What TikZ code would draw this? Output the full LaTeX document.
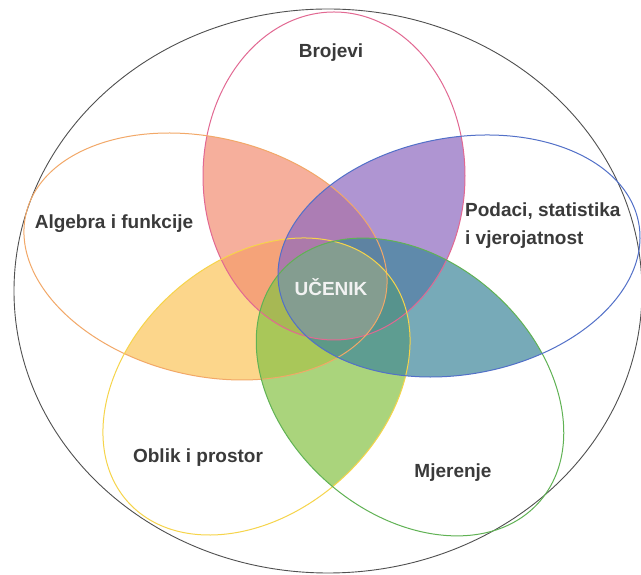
\documentclass[tikz,border=0pt]{standalone}
\usepackage{fontspec}
\setmainfont{Liberation Sans}
\definecolor{cPink}{RGB}{226,104,146}
\definecolor{cOrange}{RGB}{242,168,104}
\definecolor{cBlue}{RGB}{82,112,200}
\definecolor{cYellow}{RGB}{246,212,74}
\definecolor{cGreen}{RGB}{96,178,84}
\definecolor{fSalmon}{RGB}{243,142,114}
\definecolor{fPurple}{RGB}{142,105,191}
\definecolor{fTeal}{RGB}{62,134,155}
\definecolor{fGreen}{RGB}{134,194,69}
\definecolor{fYellow}{RGB}{251,198,91}
\definecolor{fCore}{RGB}{178,170,150}
\definecolor{labelgray}{RGB}{58,58,58}
\definecolor{outergray}{RGB}{80,80,80}
\newcommand\PathPink{(334,399) ellipse [x radius=131, y radius=164]}
\newcommand\PathOrange{(205.5,318.5) ellipse [x radius=184.5, y radius=119]}
\newcommand\PathBlue{(459,319) ellipse [x radius=182.7, y radius=118.4]}
\newcommand\PathYellow{(256.5,188.5) ellipse [x radius=172.8, y radius=125.6]}
\newcommand\PathGreen{(410,188) ellipse [x radius=173, y radius=126]}
\begin{document}
\begin{tikzpicture}[x=1pt,y=1pt,
  rotO/.style={rotate around={-13.5:(205.5,318.5)}},
  rotB/.style={rotate around={10.3:(459,319)}},
  rotY/.style={rotate around={41.9:(256.5,188.5)}},
  rotG/.style={rotate around={-42:(410,188)}},
  lens/.style={fill opacity=0.7},
  ring/.style={line width=1pt},
  lbl/.style={font=\fontsize{19}{28}\selectfont\bfseries, text=labelgray, inner sep=0pt}]
\useasboundingbox (0,0) rectangle (641,575);
\fill[white] (0,0) rectangle (641,575);
% outer ellipse
\draw[outergray, line width=0.9pt] (328,284) ellipse [x radius=314, y radius=282];
% pairwise overlaps
\begin{scope}
  \clip[rotO] \PathOrange;
  \clip[rotY] \PathYellow;
  \fill[fYellow, lens] (0,0) rectangle (641,575);
\end{scope}
\begin{scope}
  \clip \PathPink;
  \clip[rotO] \PathOrange;
  \fill[fSalmon, lens] (0,0) rectangle (641,575);
\end{scope}
\begin{scope}
  \clip \PathPink;
  \clip[rotB] \PathBlue;
  \fill[fPurple, lens] (0,0) rectangle (641,575);
\end{scope}
\begin{scope}
  \clip[rotY] \PathYellow;
  \clip[rotG] \PathGreen;
  \fill[fGreen, lens] (0,0) rectangle (641,575);
\end{scope}
\begin{scope}
  \clip[rotB] \PathBlue;
  \clip[rotG] \PathGreen;
  \fill[fTeal, lens] (0,0) rectangle (641,575);
\end{scope}
% common core of all five
\begin{scope}
  \clip \PathPink;
  \clip[rotO] \PathOrange;
  \clip[rotB] \PathBlue;
  \clip[rotY] \PathYellow;
  \clip[rotG] \PathGreen;
  \fill[fCore, fill opacity=0.5] (0,0) rectangle (641,575);
\end{scope}
% outlines
\draw[cPink, ring] \PathPink;
\draw[cOrange, ring, rotO] \PathOrange;
\draw[cYellow, ring, rotY] \PathYellow;
\draw[cGreen, ring, rotG] \PathGreen;
\draw[cBlue, ring, rotB] \PathBlue;
% labels
\node[lbl] (brojevi) at (331,522) {Brojevi};
\node[lbl] (algebra) at (114,351) {Algebra i funkcije};
\node[lbl, anchor=west, align=left] (podaci) at (465,349) {Podaci, statistika\\i vjerojatnost};
\node[lbl, text={rgb,255:red,242;green,242;blue,242}] (ucenik) at (331,288) {UČENIK};
\node[lbl] (oblik) at (198,117) {Oblik i prostor};
\node[lbl] (mjerenje) at (453,102) {Mjerenje};
\end{tikzpicture}
\end{document}
